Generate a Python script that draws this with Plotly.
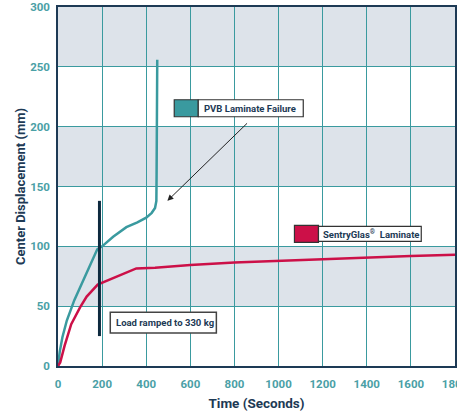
import plotly.graph_objects as go

# Data
pvb_time = [0, 8, 20, 40, 74, 110, 150, 178, 200, 250, 310, 360, 400, 425, 440, 446, 447, 448, 449, 450]
pvb_disp = [0, 12, 24, 38, 55, 70, 86, 97.5, 100, 108, 116, 120, 124, 128, 132, 138, 160, 200, 240, 256]
sg_time = [0, 10, 30, 60, 100, 130, 180, 250, 300, 355, 440, 600, 800, 1000, 1200, 1400, 1600, 1800]
sg_disp = [0, 3, 17, 35, 49, 58, 68, 73.5, 77, 81.5, 82, 84.5, 86.5, 88, 89.5, 91, 92, 93]
load_time = [188, 188]
load_disp = [138, 25]

x_ticks = [0, 200, 400, 600, 800, 1000, 1200, 1400, 1600, 1800]
y_ticks = [0, 50, 100, 150, 200, 250, 300]

TEAL = "#3a9a9f"
RED = "#cc1048"
NAVY = "#1d3a55"
BAND = "#dde3ea"
TICK = "#4aa0a6"

fig = go.Figure()
fig.add_trace(go.Scatter(x=pvb_time, y=pvb_disp, mode="lines",
                         line=dict(color=TEAL, width=2.5), showlegend=False))
fig.add_trace(go.Scatter(x=sg_time, y=sg_disp, mode="lines",
                         line=dict(color=RED, width=2.5), showlegend=False))
fig.add_trace(go.Scatter(x=load_time, y=load_disp, mode="lines",
                         line=dict(color="#0e2a3f", width=3), showlegend=False))

shapes = []
for y0 in [50, 150, 250]:
    shapes.append(dict(type="rect", xref="x", yref="y", x0=0, x1=1800, y0=y0, y1=y0 + 50,
                       fillcolor=BAND, line=dict(width=0), layer="below"))

# legend-like boxes
box_line = dict(color="#333333", width=1.2)
shapes += [
    dict(type="rect", x0=527, x1=636, y0=208.3, y1=222.5, fillcolor=TEAL, line=box_line),
    dict(type="rect", x0=636, x1=1112, y0=208.3, y1=222.5, fillcolor="white", line=box_line),
    dict(type="rect", x0=1072, x1=1181, y0=103.3, y1=117.5, fillcolor=RED, line=box_line),
    dict(type="rect", x0=1181, x1=1647, y0=104.2, y1=116.7, fillcolor="white", line=box_line),
    dict(type="rect", x0=237, x1=718, y0=27.5, y1=45, fillcolor="white", line=dict(color="#444444", width=1.5)),
]

afont = dict(family="Roboto, Liberation Sans, sans-serif", size=9.5, color=NAVY, weight="bold")
annotations = [
    dict(x=655, y=215.4, text="PVB Laminate Failure", showarrow=False, xanchor="left", font=afont),
    dict(x=1192, y=110.5, text="SentryGlas<sup>®</sup>  Laminate", showarrow=False, xanchor="left", font=afont),
    dict(x=255, y=36.2, text="Load ramped to 330 kg", showarrow=False, xanchor="left", font=afont),
    dict(x=496, y=138, ax=864, ay=204, xref="x", yref="y", axref="x", ayref="y", text="",
         showarrow=True, arrowhead=2, arrowsize=1.2, arrowwidth=1, arrowcolor="#222222"),
]

tickfont = dict(family="Roboto, Liberation Sans, sans-serif", size=11.5, color=TICK, weight="bold")
xtitlefont = dict(family="Roboto, Liberation Sans, sans-serif", size=13.5, color=NAVY, weight="bold")
ytitlefont = dict(family="Roboto, Liberation Sans, sans-serif", size=13, color=NAVY, weight="bold")

fig.update_layout(
    width=457, height=415,
    margin=dict(l=58, r=2, t=7, b=49, autoexpand=False),
    paper_bgcolor="white", plot_bgcolor="white",
    shapes=shapes, annotations=annotations,
    xaxis=dict(range=[0, 1800], tickvals=x_ticks, showgrid=True, gridcolor=TEAL, gridwidth=1,
               showline=True, linecolor=NAVY, linewidth=1.5, mirror=True, zeroline=False,
               tickfont=tickfont, ticks="", ticklabelstandoff=6, ticklabeloverflow="allow",
               automargin=False,
               title=dict(text="Time (Seconds)", font=xtitlefont, standoff=9)),
    yaxis=dict(range=[0, 300], tickvals=y_ticks, showgrid=True, gridcolor=TEAL, gridwidth=1,
               showline=True, linecolor=NAVY, linewidth=1.5, mirror=True, zeroline=False,
               tickfont=tickfont, ticks="", ticklabelstandoff=4, ticklabeloverflow="allow",
               automargin=False,
               title=dict(text="Center Displacement (mm)", font=ytitlefont, standoff=2)),
)

fig.write_html("out.html", config={"displayModeBar": False},
               post_script="document.body.style.margin='0';document.body.style.overflow='hidden';")
